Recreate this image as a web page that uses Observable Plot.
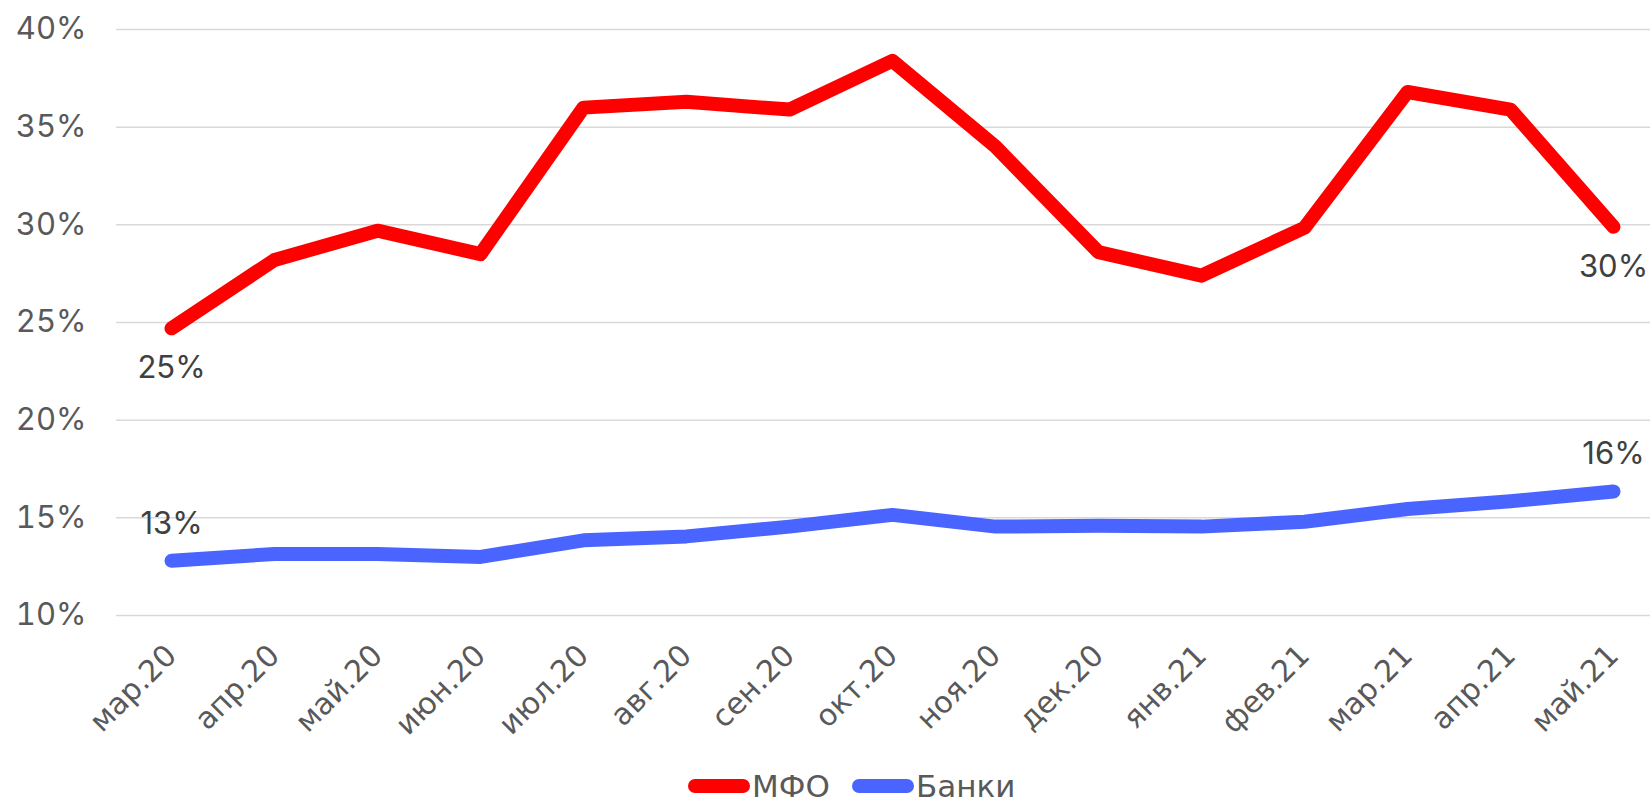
<!DOCTYPE html>
<html>
<head>
<meta charset="utf-8">
<script src="https://cdn.jsdelivr.net/npm/d3@7"></script>
<script src="https://cdn.jsdelivr.net/npm/@observablehq/plot@0.6"></script>
<style>
  html, body { margin: 0; padding: 0; background: #fff; }
  #chart { width: 1650px; }
  #legend { position: relative; width: 1650px; height: 57px; font-family: "DejaVu Sans", sans-serif; font-size: 31px; color: #595959; }
  .item { position: absolute; top: 21px; display: flex; align-items: center; height: 40px; }
  .sw { width: 62px; height: 14px; border-radius: 7px; margin-right: 2px; }
</style>
</head>
<body>
<div id="chart"></div>
<div id="legend"></div>
<script>
const months = ["мар.20","апр.20","май.20","июн.20","июл.20","авг.20","сен.20","окт.20","ноя.20","дек.20","янв.21","фев.21","мар.21","апр.21","май.21"];
const mfo = [24.7, 28.2, 29.7, 28.5, 36.0, 36.3, 35.9, 38.4, 34.0, 28.6, 27.4, 29.85, 36.8, 35.9, 29.9];
const banks = [12.8, 13.15, 13.15, 13.0, 13.85, 14.05, 14.55, 15.15, 14.55, 14.6, 14.55, 14.8, 15.45, 15.85, 16.35];
const yTicks = [10, 15, 20, 25, 30, 35, 40];
const seriesNames = ["МФО", "Банки"];
const colors = ["#FF0000", "#4A64FF"];

const rows = [];
months.forEach((m, i) => {
  rows.push({month: m, value: mfo[i], series: seriesNames[0]});
  rows.push({month: m, value: banks[i], series: seriesNames[1]});
});
const last = months.length - 1;
const labelsBelow = [
  {month: months[0], value: mfo[0]},
  {month: months[last], value: mfo[last]}
];
const labelsAbove = [
  {month: months[0], value: banks[0]},
  {month: months[last], value: banks[last]}
];
const fmt = v => Math.round(v) + "%";

const plot = Plot.plot({
  width: 1650,
  height: 745,
  marginLeft: 116,
  marginRight: 0,
  marginTop: 0,
  marginBottom: 130,
  x: {type: "point", domain: months, range: [165, 1618], padding: 0},
  y: {domain: [10, 40], range: [615, 29]},
  color: {domain: seriesNames, range: colors},
  style: {background: "#fff"},
  marks: [
    Plot.ruleY(yTicks, {stroke: "#d9d9d9", strokeWidth: 1.5}),
    Plot.axisY(yTicks, {tickSize: 0, tickPadding: 30, tickFormat: d => d + "%", fontSize: 31, fontFamily: "Inter, sans-serif", fill: "#595959", label: null}),
    Plot.axisX({tickSize: 0, tickRotate: -45, tickPadding: 35, fontSize: 30, fontFamily: "DejaVu Sans, sans-serif", fill: "#595959", label: null}),
    Plot.line(rows, {x: "month", y: "value", stroke: "series", z: "series", strokeWidth: 14, strokeLinecap: "round", strokeLinejoin: "round"}),
    Plot.text(labelsBelow, {x: "month", y: "value", text: d => fmt(d.value), dy: 40, fontSize: 31, fontFamily: "Inter, sans-serif", fill: "#404040"}),
    Plot.text(labelsAbove, {x: "month", y: "value", text: d => fmt(d.value), dy: -37, fontSize: 31, fontFamily: "Inter, sans-serif", fill: "#404040"})
  ]
});
document.getElementById("chart").append(plot);

const legend = document.getElementById("legend");
const lefts = [688, 852];
seriesNames.forEach((s, i) => {
  const it = document.createElement("div");
  it.className = "item";
  it.style.left = lefts[i] + "px";
  const sw = document.createElement("div");
  sw.className = "sw";
  sw.style.background = colors[i];
  const tx = document.createElement("span");
  tx.textContent = s;
  it.append(sw, tx);
  legend.append(it);
});
</script>
</body>
</html>
